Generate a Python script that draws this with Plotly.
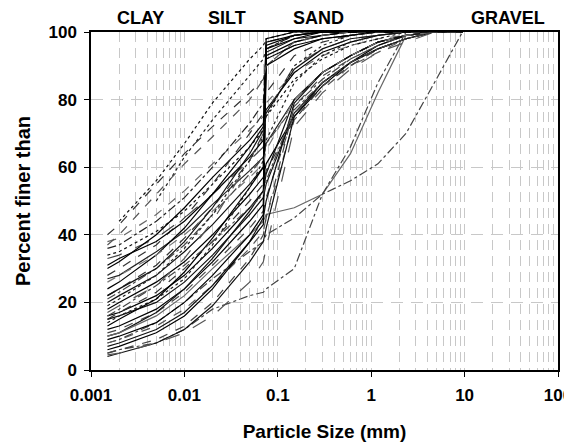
import plotly.graph_objects as go

# Sieve / hydrometer particle sizes (mm)
SIZES = [0.0015, 0.002, 0.005, 0.01, 0.02, 0.05, 0.07, 0.075, 0.15, 0.3, 0.6, 1.18, 2.36, 4.75, 9.5]

# Percent finer for each sample (None = not measured)
c01 = [40, 43, 55, 64, 72, 82, 86, 90, 97, 99, 100, 100, 100, 100, 100]
c02 = [38, 39, 46, 53, 61, 71, 75, 79, 88, 93, 96, 98, 99, 100, 100]
c03 = [36, 37, 44, 51, 60, 73, 79, 95, 99, 100, 100, 100, 100, 100, 100]
c04 = [34, 35, 41, 47, 55, 66, 71, 75, 86, 92, 96, 98, 100, 100, 100]
c05 = [33, 34, 39, 45, 52, 62, 66, 92, 96, 98, 99, 100, 100, 100, 100]
c06 = [None, 44, 56, 67, 79, 92, 96, 98, 100, 100, 100, 100, 100, 100, 100]
c07 = [None, None, 50, 63, 74, 87, 92, 95, 99, 100, 100, 100, 100, 100, 100]
c08 = [30, 32, 40, 48, 57, 68, 73, 77, 88, 94, 97, 99, 100, 100, 100]
c09 = [28, 30, 37, 45, 55, 70, 76, 82, 93, 97, 99, 100, 100, 100, 100]
c10 = [27, 28, 35, 41, 49, 59, 63, 67, 80, 88, 93, 97, 99, 100, 100]
c11 = [31, 33, 38, 44, 52, 63, 68, 96, 99, 100, 100, 100, 100, 100, 100]
c12 = [22, 24, 31, 39, 48, 62, 70, 97, 99, 100, 100, 100, 100, 100, 100]
c13 = [20, 22, 28, 35, 43, 55, 60, 94, 98, 99, 100, 100, 100, 100, 100]
c14 = [21, 23, 30, 37, 46, 58, 63, 67, 78, 86, 92, 96, 99, 100, 100]
c15 = [18, 20, 26, 32, 40, 52, 57, 61, 75, 84, 91, 96, 99, 100, 100]
c16 = [17, 19, 25, 33, 44, 62, 70, 76, 90, 95, 98, 99, 100, 100, 100]
c17 = [16, 17, 22, 28, 36, 48, 53, 93, 97, 99, 100, 100, 100, 100, 100]
c18 = [15, 17, 23, 30, 38, 50, 55, 59, 74, 84, 90, 95, 98, 100, 100]
c19 = [15, 16, 20, 26, 34, 46, 51, 55, 76, 85, 91, 95, 98, 100, 100]
c20 = [14, 16, 21, 27, 37, 54, 62, 68, 85, 93, 97, 99, 100, 100, 100]
c21 = [12, 13, 18, 24, 32, 44, 49, 92, 96, 98, 99, 100, 100, 100, 100]
c22 = [11, 12, 17, 23, 31, 42, 47, 51, 76, 84, 90, 95, 98, 100, 100]
c23 = [10, 11, 17, 24, 33, 47, 53, 58, 80, 88, 93, 97, 99, 100, 100]
c24 = [10, 11, 16, 22, 30, 40, 44, 46, 48, 52, 64, 82, 99, 100, 100]
c25 = [8, 9, 14, 20, 27, 35, 38, 40, 45, 52, 56, 61, 70, 85, 100]
c26 = [5, 6, 8, 12, 18, 22, 23, 24, 30, 52, 66, 85, 100, 100, 100]
c27 = [9, 10, 14, 20, 28, 40, 46, 95, 98, 100, 100, 100, 100, 100, 100]
c28 = [8, 9, 13, 18, 25, 36, 41, 45, 74, 83, 90, 94, 98, 100, 100]
c29 = [7, 8, 12, 17, 25, 38, 45, 50, 79, 88, 93, 97, 99, 100, 100]
c30 = [6, 7, 11, 16, 24, 38, 43, 90, 95, 98, 99, 100, 100, 100, 100]
c31 = [5, 6, 9, 13, 20, 33, 40, 45, 78, 87, 92, 96, 99, 100, 100]
c32 = [4, 5, 8, 12, 19, 32, 38, 42, 75, 85, 91, 95, 98, 100, 100]
c33 = [4.5, 5, 8, 11, 16, 26, 32, 36, 72, 82, 89, 94, 97, 100, 100]
c34 = [24, 26, 34, 42, 52, 66, 72, 98, 100, 100, 100, 100, 100, 100, 100]
c35 = [26, 28, 34, 40, 47, 57, 61, 65, 80, 88, 93, 97, 99, 100, 100]
c36 = [19, 21, 28, 36, 46, 62, 69, 75, 90, 96, 99, 100, 100, 100, 100]
c37 = [13, 15, 21, 29, 39, 54, 60, 97, 99, 100, 100, 100, 100, 100, 100]
c38 = [16, 18, 25, 31, 38, 48, 52, 56, 77, 85, 91, 95, 98, 100, 100]
c39 = [22, 24, 30, 38, 48, 64, 71, 76, 89, 95, 98, 99, 100, 100, 100]
c40 = [37, 40, 52, 61, 69, 80, 86, 90, 97, 99, 100, 100, 100, 100, 100]

SAMPLES = [c01, c02, c03, c04, c05, c06, c07, c08, c09, c10,
           c11, c12, c13, c14, c15, c16, c17, c18, c19, c20,
           c21, c22, c23, c24, c25, c26, c27, c28, c29, c30,
           c31, c32, c33, c34, c35, c36, c37, c38, c39, c40]

DASHES = ["dash", "dash", "dashdot", "dot", "longdash", "dot", "dot", "solid", "dash", "solid",
          "solid", "dash", "solid", "dashdot", "solid", "longdash", "solid", "dash", "solid", "dot",
          "solid", "dash", "solid", "solid", "dashdot", "dashdot", "solid", "dash", "solid", "solid",
          "dash", "solid", "longdash", "solid", "dash", "dot", "solid", "dashdot", "solid", "dash"]
COLORS = ["#333333", "#666666", "#222222", "#111111", "#444444", "#111111", "#222222", "#000000", "#333333", "#222222",
          "#000000", "#333333", "#111111", "#444444", "#000000", "#555555", "#000000", "#333333", "#111111", "#222222",
          "#000000", "#444444", "#111111", "#666666", "#444444", "#444444", "#000000", "#555555", "#111111", "#000000",
          "#444444", "#111111", "#555555", "#000000", "#777777", "#222222", "#000000", "#444444", "#111111", "#555555"]

FONT = "Liberation Sans, Arial, sans-serif"
ZONES = ["CLAY", "SILT", "SAND", "GRAVEL"]
ZONE_X = [0.107, 0.291, 0.488, 0.893]

fig = go.Figure()
for vals, dsh, col in zip(SAMPLES, DASHES, COLORS):
    xs = [s for s, v in zip(SIZES, vals) if v is not None]
    ys = [v for v in vals if v is not None]
    fig.add_trace(go.Scatter(x=xs, y=ys, mode="lines",
                             line=dict(color=col, width=1.2, dash=dsh),
                             showlegend=False, hoverinfo="skip"))

for name, px in zip(ZONES, ZONE_X):
    fig.add_annotation(text="<b>%s</b>" % name, x=px, y=1.042, xref="paper", yref="paper",
                       showarrow=False, xanchor="center", yanchor="middle",
                       font=dict(family=FONT, size=18, color="black"))

# page body has an 8px margin; the figure is offset by it
fig.update_layout(
    width=564, height=436,
    margin=dict(l=83, r=14, t=24, b=74, autoexpand=False),
    paper_bgcolor="white", plot_bgcolor="white",
    font=dict(family=FONT, color="black"),
    xaxis=dict(type="log", range=[-3, 2], dtick=1, automargin=False,
               tickvals=[0.001, 0.01, 0.1, 1, 10, 100],
               ticktext=["<b>0.001</b>", "<b>0.01</b>", "<b>0.1</b>", "<b>1</b>", "<b>10</b>", "<b>100</b>"],
               ticks="outside", ticklen=5, tickwidth=1, tickcolor="black",
               ticklabeloverflow="allow", ticklabelstandoff=4,
               showline=True, linecolor="black", linewidth=1.5, mirror=True,
               showgrid=False, zeroline=False,
               tickfont=dict(family=FONT, size=17),
               minor=dict(dtick="D1", showgrid=True, gridcolor="#c8c8c8", griddash="10px,6px",
                          gridwidth=1, ticks=""),
               title=dict(text="<b>Particle Size (mm)</b>", font=dict(family=FONT, size=19), standoff=21)),
    yaxis=dict(range=[0, 100], dtick=20, automargin=False,
               tickvals=[0, 20, 40, 60, 80, 100],
               ticktext=["<b>0</b>", "<b>20</b>", "<b>40</b>", "<b>60</b>", "<b>80</b>", "<b>100</b>"],
               ticks="outside", ticklen=5, tickwidth=1, tickcolor="black",
               ticklabelstandoff=4,
               showline=True, linecolor="black", linewidth=1.5, mirror=True,
               showgrid=True, gridcolor="#c8c8c8", griddash="12px,8px", gridwidth=1,
               zeroline=False,
               tickfont=dict(family=FONT, size=17),
               title=dict(text="<b>Percent finer than</b>", font=dict(family=FONT, size=20), standoff=12)),
)

fig.write_html("out.html")
